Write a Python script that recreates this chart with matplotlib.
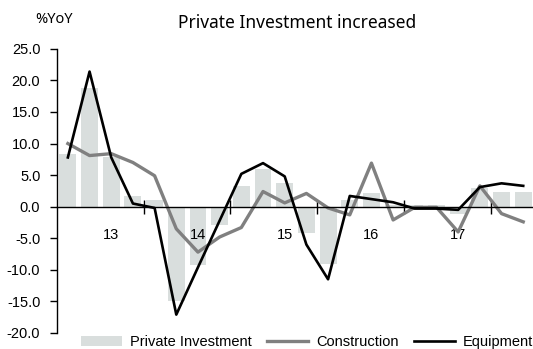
import numpy as np
import matplotlib
matplotlib.use("Agg")
import matplotlib.pyplot as plt

plt.rcParams['font.family'] = ['Liberation Sans', 'DejaVu Sans']
plt.rcParams['axes.unicode_minus'] = False

# quarterly %YoY, 2013Q1 .. 2018Q2
private_inv = [8.3, 18.8, 7.9, 1.7, 1.0, -14.9, -9.2, -2.9, 3.3, 5.9, 3.8, -4.1,
               -9.0, 1.1, 2.2, 0.3, 0.2, 0.3, -1.1, 3.0, 2.4, 2.4]
construction = [10.0, 8.1, 8.4, 7.0, 4.9, -3.5, -7.2, -4.8, -3.3, 2.4, 0.6, 2.1,
                -0.2, -1.3, 6.9, -2.1, -0.1, -0.1, -4.0, 3.3, -1.1, -2.4]
equipment = [7.8, 21.4, 7.8, 0.5, -0.2, -17.1, -9.6, -2.2, 5.2, 6.9, 4.8, -6.0,
             -11.5, 1.7, 1.2, 0.7, -0.3, -0.3, -0.5, 3.1, 3.7, 3.3]
year_labels = ['13', '14', '15', '16', '17']

x = np.arange(len(private_inv))

fig = plt.figure(figsize=(5.33, 3.49), dpi=100)
ax = fig.add_axes([0.107, 0.046, 0.895, 0.814])

bars = ax.bar(x, private_inv, width=0.78, color='#d9dedd', label='Private Investment', zorder=1)
l_con, = ax.plot(x, construction, color='#808080', lw=2.4, label='Construction', zorder=2)
l_eq, = ax.plot(x, equipment, color='black', lw=1.9, label='Equipment', zorder=3)

ax.set_xlim(-0.5, len(x) - 0.5)
ax.set_ylim(-20, 25)
ax.set_yticks(np.arange(-20, 26, 5))
ax.set_yticklabels(['%.1f' % v for v in np.arange(-20, 26, 5)], fontsize=10.5)
ax.tick_params(axis='y', direction='out', length=5, width=1, pad=7)

for s in ['top', 'right']:
    ax.spines[s].set_visible(False)
ax.spines['bottom'].set_position(('data', 0))
ax.spines['bottom'].set_linewidth(1)
ax.spines['left'].set_linewidth(1)

# year boundaries as major ticks, year names under the third quarter
ax.set_xticks([3.5, 7.5, 11.5, 15.5, 19.5])
ax.set_xticklabels([])
ax.tick_params(axis='x', which='major', direction='inout', length=10, width=1)
ax.set_xticks([2, 6, 10, 14, 18], minor=True)
ax.set_xticklabels(year_labels, minor=True, fontsize=10.5)
ax.tick_params(axis='x', which='minor', length=0, pad=15)

fig.text(0.557, 0.935, 'Private Investment increased', ha='center', va='center',
         fontsize=12.5, family='Noto Sans')
fig.text(0.101, 0.943, '%YoY', ha='center', va='center', fontsize=10.5, family='Noto Sans')

fig.legend(handles=[bars, l_con, l_eq], loc='center', bbox_to_anchor=(0.576, 0.02),
           ncol=3, frameon=False, fontsize=10.5, handlelength=2.8, handletextpad=0.55,
           columnspacing=1.05, borderpad=0, borderaxespad=0)

fig.savefig('out.png', dpi=100)
